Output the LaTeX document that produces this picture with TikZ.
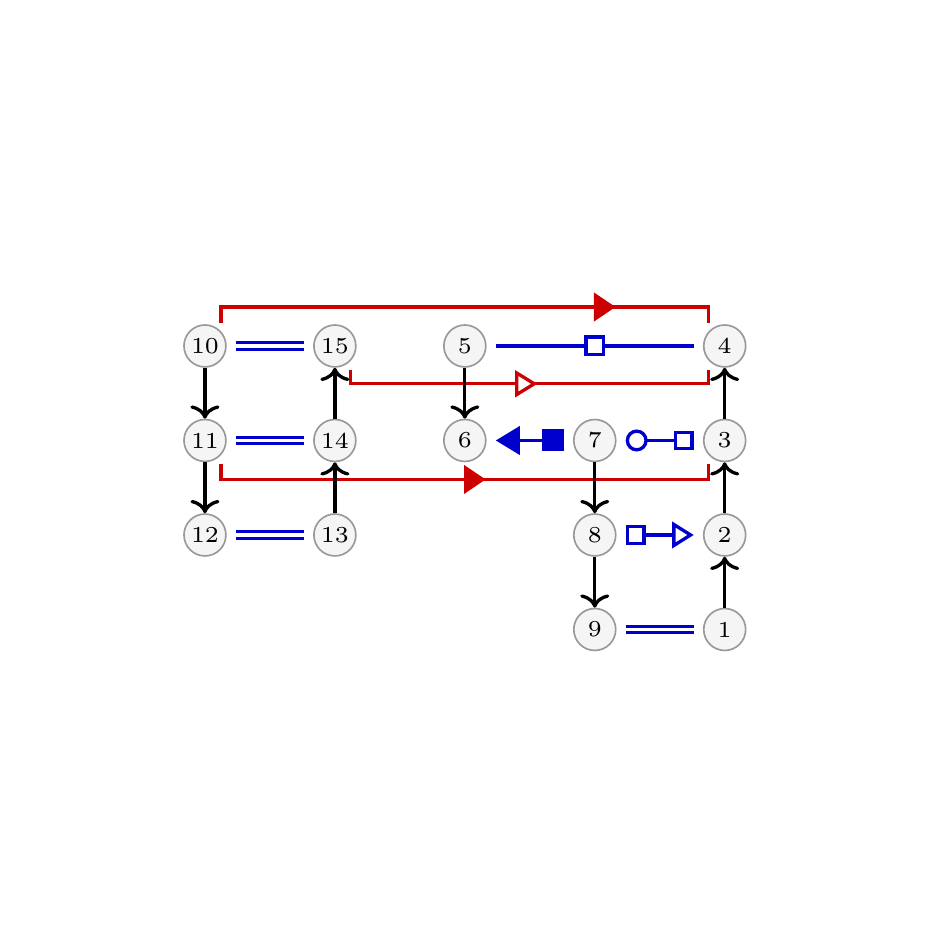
\documentclass[tikz,border=0pt]{standalone}
\usetikzlibrary{positioning,arrows.meta,decorations.markings}

\begin{document}
\begin{tikzpicture}[node distance={8mm and 11mm}, on grid,
  main/.style = {draw=gray!80, circle, fill=gray!8, minimum size=3.55mm, inner sep=0pt, font=\fontsize{5.5pt}{6pt}\selectfont},
  flow/.style = {thick, -{To[width=7pt,length=3.2pt]}},
  link/.style = {draw=blue!80!black, thick, shorten <=2.2pt, shorten >=2.2pt},
  bond/.style = {draw=blue!80!black, double=white, line width=0.75pt, double distance=0.8pt, shorten <=2.2pt, shorten >=2.2pt},
  route/.style = {color=red!80!black, thick, postaction={decorate}},
  sqr/.style = {draw=blue!80!black, thick, fill=white, minimum size=1.5mm, inner sep=0pt}]
\useasboundingbox (0,0) rectangle (8,8);
\node[main] (10) at (1.735,5.071) {10};
\node[main] (15) [right=of 10] {15};
\node[main] (5) [right=of 15] {5};
\node[main] (4) [right=22mm of 5] {4};
\node[main] (11) [below=of 10] {11};
\node[main] (14) [below=of 15] {14};
\node[main] (6) [below=of 5] {6};
\node[main] (7) [right=of 6] {7};
\node[main] (3) [below=of 4] {3};
\node[main] (12) [below=of 11] {12};
\node[main] (13) [below=of 14] {13};
\node[main] (8) [below=of 7] {8};
\node[main] (2) [below=of 3] {2};
\node[main] (9) [below=of 8] {9};
\node[main] (1) [below=of 2] {1};
% routes
\draw[route, decoration={markings, mark=at position 0.79 with {\arrow{Triangle[length=5.2pt,width=6.8pt]}}}]
  ([shift={(1.35mm,1.95mm)}]10.center) -- ++(0,1.35mm) -| ([shift={(-1.35mm,1.95mm)}]4.center);
\draw[route, decoration={markings, mark=at position 0.52 with {\arrow{Triangle[fill=white,length=5.4pt,width=6.4pt]}}}]
  ([shift={(1.35mm,-2mm)}]15.center) -- ++(0,-1.2mm) -| ([shift={(-1.35mm,-2mm)}]4.center);
\draw[route, decoration={markings, mark=at position 0.54 with {\arrow{Triangle[length=5.2pt,width=6.8pt]}}}]
  ([shift={(1.35mm,-1.95mm)}]11.center) -- ++(0,-1.35mm) -| ([shift={(-1.35mm,-1.95mm)}]3.center);
% flows
\draw[flow] (10) -- (11);
\draw[flow] (11) -- (12);
\draw[flow] (13) -- (14);
\draw[flow] (14) -- (15);
\draw[flow] (5) -- (6);
\draw[flow] (7) -- (8);
\draw[flow] (8) -- (9);
\draw[flow] (1) -- (2);
\draw[flow] (2) -- (3);
\draw[flow] (3) -- (4);
% links
\draw[bond] (10) -- (15);
\draw[bond] (11) -- (14);
\draw[bond] (12) -- (13);
\draw[bond] (9) -- (1);
\draw[link] (5) -- node[sqr] {} (4);
\draw[link, {Square[length=5.3pt,width=5.3pt]}-{Triangle[length=5.8pt,width=6.8pt]}] (7) -- (6);
\draw[link, {Circle[fill=white,length=5.3pt,width=5.3pt]}-{Square[fill=white,length=4.8pt,width=4.8pt]}] (7) -- (3);
\draw[link, {Square[fill=white,length=4.8pt,width=4.8pt]}-{Triangle[fill=white,length=5.2pt,width=6.3pt]}] (8) -- (2);
\end{tikzpicture}
\end{document}
